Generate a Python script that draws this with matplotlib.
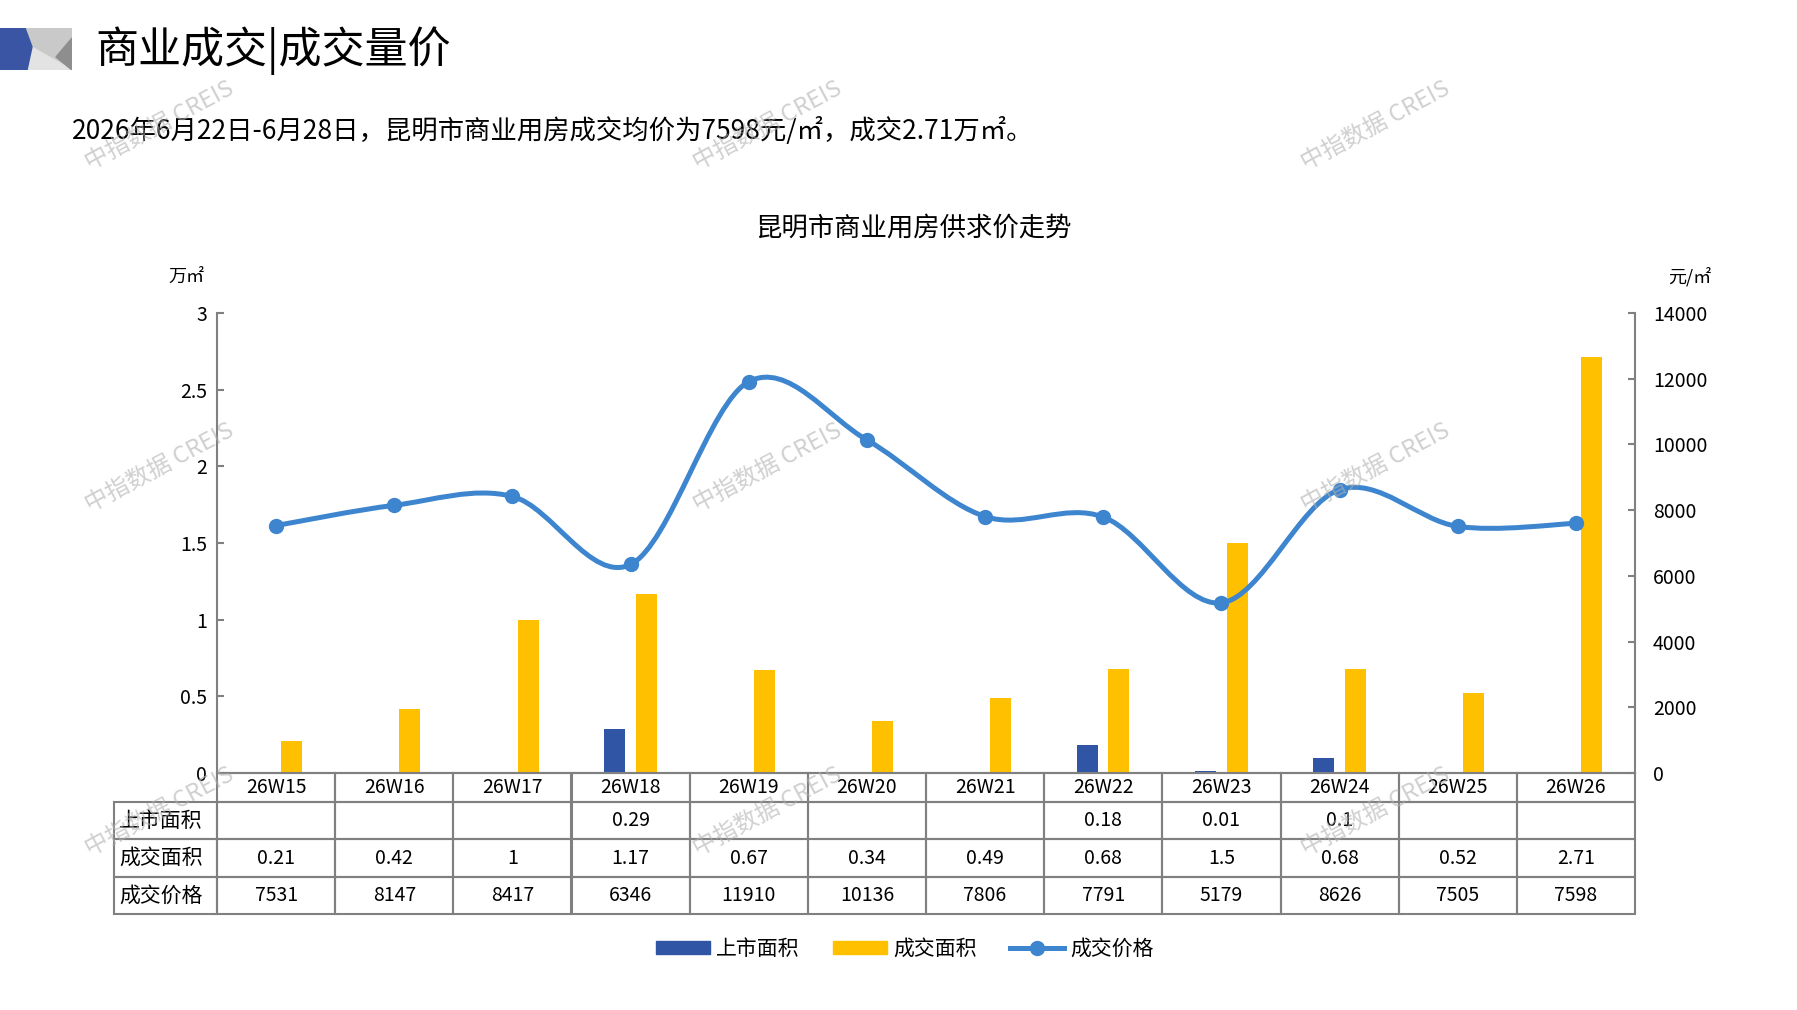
import numpy as np
import matplotlib
matplotlib.use("Agg")
import matplotlib.pyplot as plt
from matplotlib.path import Path
from matplotlib.patches import PathPatch, Polygon, Patch
from matplotlib.lines import Line2D
from matplotlib.table import Table
from matplotlib.ticker import FuncFormatter

plt.rcParams['font.family'] = ['Noto Sans CJK SC', 'DejaVu Sans']

# data
weeks = ['26W15', '26W16', '26W17', '26W18', '26W19', '26W20',
         '26W21', '26W22', '26W23', '26W24', '26W25', '26W26']
supply = [np.nan, np.nan, np.nan, 0.29, np.nan, np.nan,
          np.nan, 0.18, 0.01, 0.1, np.nan, np.nan]
deal = [0.21, 0.42, 1, 1.17, 0.67, 0.34, 0.49, 0.68, 1.5, 0.68, 0.52, 2.71]
price = [7531, 8147, 8417, 6346, 11910, 10136, 7806, 7791, 5179, 8626, 7505, 7598]
row_names = ['上市面积', '成交面积', '成交价格']

BLUE = '#2F55A4'
YELLOW = '#FFC000'
LINE = '#3D85CE'
GRAY = '#808080'

W, H = 1797, 1010
fig = plt.figure(figsize=(W / 100, H / 100), dpi=100)

# header logo
lax = fig.add_axes([0, 1 - 70 / H, 72 / W, 42 / H])
lax.set_xlim(0, 72)
lax.set_ylim(70, 28)
lax.axis('off')
lax.add_patch(Polygon([(24, 28), (72, 28), (72, 70), (24, 70)], color='#c9c9c9'))
lax.add_patch(Polygon([(30, 46), (72, 70), (27, 70)], color='#e3e3e3'))
lax.add_patch(Polygon([(72, 38), (56, 57), (72, 70)], color='#8e8e8e'))
lax.add_patch(Polygon([(0, 28), (25, 28), (32, 47), (27, 70), (0, 70)], color='#3A55A4'))

fig.text(95 / W, 1 - 51 / H, '商业成交|成交量价', fontsize=31, va='center', ha='left')
fig.text(72 / W, 1 - 131 / H,
         '2026年6月22日-6月28日，昆明市商业用房成交均价为7598元/㎡，成交2.71万㎡。',
         fontsize=19, va='center', ha='left')
fig.text(913 / W, 1 - 228 / H, '昆明市商业用房供求价走势', fontsize=19,
         va='center', ha='center')
fig.text(186 / W, 1 - 277 / H, '万㎡', fontsize=13, va='center', ha='center')
fig.text(1690 / W, 1 - 277 / H, '元/㎡', fontsize=13, va='center', ha='center')

# main axes
ax = fig.add_axes([217 / W, 1 - 773 / H, 1418 / W, 460 / H])
x = np.arange(len(weeks))
ax.bar(x - 0.133, supply, width=0.178, color=BLUE, label='上市面积')
ax.bar(x + 0.133, deal, width=0.178, color=YELLOW, label='成交面积')
ax.set_xlim(-0.5, len(weeks) - 0.5)
ax.set_ylim(0, 3)
ax.set_yticks(np.arange(0, 3.01, 0.5))
ax.yaxis.set_major_formatter(FuncFormatter(lambda v, p: f'{v:g}'))
ax.set_xticks([])
for s in ['top', 'right']:
    ax.spines[s].set_visible(False)
for s in ['left', 'bottom']:
    ax.spines[s].set_color(GRAY)
    ax.spines[s].set_linewidth(1.5)
ax.tick_params(axis='y', direction='in', length=5, width=1.5, color=GRAY,
               labelsize=14, pad=7)

ax2 = ax.twinx()
ax2.set_ylim(0, 14000)
ax2.set_yticks(np.arange(0, 14001, 2000))
for s in ['top', 'left', 'bottom']:
    ax2.spines[s].set_visible(False)
ax2.spines['right'].set_color(GRAY)
ax2.spines['right'].set_linewidth(1.5)
ax2.tick_params(axis='y', direction='in', length=5, width=1.5, color=GRAY,
                labelsize=14, pad=13)

# smoothed price line (Catmull-Rom as cubic Bezier)
xp = x.astype(float)
yp = np.array(price, dtype=float)
n = len(xp)
verts = [(xp[0], yp[0])]
codes = [Path.MOVETO]
for i in range(n - 1):
    i0 = max(i - 1, 0)
    i3 = min(i + 2, n - 1)
    c1 = (xp[i] + (xp[i + 1] - xp[i0]) / 6, yp[i] + (yp[i + 1] - yp[i0]) / 6)
    c2 = (xp[i + 1] - (xp[i3] - xp[i]) / 6, yp[i + 1] - (yp[i3] - yp[i]) / 6)
    verts += [c1, c2, (xp[i + 1], yp[i + 1])]
    codes += [Path.CURVE4] * 3
ax2.add_patch(PathPatch(Path(verts, codes), facecolor='none', edgecolor=LINE,
                        lw=3.6, capstyle='round', joinstyle='round'))
ax2.plot(xp, yp, 'o', color=LINE, markersize=10, zorder=3)

# data table under the axes
tab = Table(ax, bbox=[-103 / 1418, -141 / 460, 1521 / 1418, 141 / 460])
lab_w, col_w = 103, 1418 / 12
head_h, row_h = 29, 37.3
tab.add_cell(0, 0, lab_w, head_h, text='', loc='center',
             facecolor='none', edgecolor=GRAY).visible_edges = 'open'
for j, wk in enumerate(weeks):
    tab.add_cell(0, j + 1, col_w, head_h, text=wk, loc='center',
                 facecolor='none', edgecolor=GRAY)
rows = [supply, deal, price]
for i, (name, vals) in enumerate(zip(row_names, rows)):
    tab.add_cell(i + 1, 0, lab_w, row_h, text=name, loc='left',
                 facecolor='none', edgecolor=GRAY)
    for j, v in enumerate(vals):
        txt = '' if np.isnan(v) else f'{v:g}'
        tab.add_cell(i + 1, j + 1, col_w, row_h, text=txt, loc='center',
                     facecolor='none', edgecolor=GRAY)
tab.auto_set_font_size(False)
tab.set_fontsize(14)
for (r, c), cell in tab.get_celld().items():
    cell.set_linewidth(1.5)
    cell.PAD = 0.05
    if c == 0 and r > 0:
        cell.get_text().set_fontsize(15)
ax.add_table(tab)

# legend
handles = [Patch(color=BLUE, label='上市面积'),
           Patch(color=YELLOW, label='成交面积'),
           Line2D([0], [0], color=LINE, lw=3.6, marker='o', markersize=10,
                  label='成交价格')]
fig.legend(handles=handles, loc='center', bbox_to_anchor=(905 / W, 1 - 949 / H),
           ncol=3, frameon=False, fontsize=15, handlelength=2.6,
           handleheight=0.55, columnspacing=1.6, handletextpad=0.3)

# watermarks
for wx in [160, 768, 1376]:
    for wy in [126, 468, 812]:
        fig.text(wx / W, 1 - wy / H, '中指数据 CREIS', fontsize=17, color='#b0b0b0',
                 alpha=0.6, rotation=28, ha='center', va='center', zorder=10)

fig.savefig('out.png', dpi=100, facecolor='white')
